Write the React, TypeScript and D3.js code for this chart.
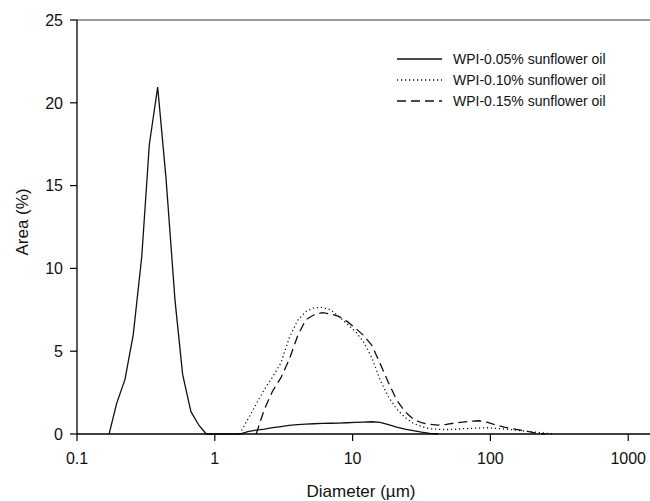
import React from 'react'
import * as d3 from 'd3'

// particle size distribution
const binsFine = [0.171, 0.194, 0.223, 0.256, 0.295, 0.335, 0.385, 0.442, 0.514, 0.584, 0.671, 0.771, 0.867]
const binsCoarse = [
  1.514, 1.738, 1.995, 2.291, 2.63, 3.02, 3.467, 3.981, 4.571, 5.248, 6.026, 6.918, 7.943, 9.12, 10.47,
  12.02, 13.8, 15.85, 18.2, 20.89, 23.99, 27.54, 31.62, 36.31, 41.69, 47.86, 54.95, 63.1, 72.44, 83.18,
  95.5, 109.6, 125.9, 144.5, 166.0, 190.5, 218.8, 251.2, 288.4
]

const oil005Fine = [0, 1.85, 3.3, 6.0, 10.7, 17.5, 20.95, 15.5, 8.1, 3.6, 1.35, 0.5, 0]
const oil005Coarse = [
  0, 0.15, 0.24, 0.3, 0.38, 0.45, 0.52, 0.57, 0.6, 0.62, 0.64, 0.65, 0.66, 0.68, 0.7, 0.72, 0.74, 0.7,
  0.57, 0.42, 0.3, 0.2, 0.11, 0.04, 0
]
const oil010 = [
  0, 0.9, 1.8, 2.7, 3.45, 4.3, 5.8, 6.85, 7.4, 7.62, 7.65, 7.5, 7.1, 6.65, 6.2, 5.55, 4.6, 3.25, 2.25, 1.5,
  1.0, 0.65, 0.45, 0.32, 0.28, 0.27, 0.28, 0.32, 0.34, 0.36, 0.38, 0.34, 0.3, 0.26, 0.2, 0.15, 0.1, 0.05, 0
]
const oil015 = [
  0, 1.5, 2.6, 3.4, 4.5, 5.9, 6.9, 7.2, 7.33, 7.25, 7.1, 6.8, 6.4, 5.95, 5.35, 4.25, 3.1, 2.05, 1.35, 0.9,
  0.68, 0.58, 0.54, 0.58, 0.66, 0.72, 0.78, 0.8, 0.7, 0.55, 0.42, 0.32, 0.23, 0.14, 0.04, 0
]

const xTicks = [0.1, 1, 10, 100, 1000]
const yTicks = [0, 5, 10, 15, 20, 25]
const legendLabels = ['WPI-0.05% sunflower oil', 'WPI-0.10% sunflower oil', 'WPI-0.15% sunflower oil']
const dashes = [null, '1.2,2.8', '9,5']

type Pt = { d: number; v: number }

const zip = (xs: number[], vs: number[]): Pt[] => vs.map((v, i) => ({ d: xs[i], v }))

export default function App() {
  const width = 650
  const height = 501
  const left = 77
  const right = 650
  const top = 20
  const bottom = 434
  const font = 'Arial, "Liberation Sans", Helvetica, sans-serif'

  // decade ~137.8 px, plot is cut at the right edge
  const x = d3.scaleLog().domain([0.1, 1439]).range([left, right])
  const y = d3.scaleLinear().domain([0, 25]).range([bottom, top])
  const line = d3.line<Pt>().x(p => x(p.d)).y(p => y(p.v)).curve(d3.curveLinear)

  const series = [
    zip(binsFine.concat(binsCoarse), oil005Fine.concat(oil005Coarse)),
    zip(binsCoarse, oil010),
    zip(binsCoarse.slice(2), oil015)
  ]

  return (
    <svg width={width} height={height} style={{ position: 'absolute', left: 0, top: 0, background: '#fff' }} fontFamily={font}>
      <line x1={left} x2={right} y1={top} y2={top} stroke="#7a7a7a" strokeWidth={1.5} />

      {series.map((s, i) => (
        <path key={i} d={line(s) || ''} fill="none" stroke="#111" strokeWidth={1.3}
          strokeDasharray={dashes[i] || undefined} />
      ))}

      <line x1={left} x2={left} y1={top} y2={bottom} stroke="#000" strokeWidth={1.3} />
      <line x1={left} x2={right} y1={bottom} y2={bottom} stroke="#000" strokeWidth={1.3} />

      {yTicks.map(t => (
        <g key={`y${t}`}>
          <line x1={left - 7} x2={left} y1={y(t)} y2={y(t)} stroke="#000" strokeWidth={1.2} />
          <text x={left - 14} y={y(t)} dy="0.36em" textAnchor="end" fontSize={16} fill="#111">{t}</text>
        </g>
      ))}
      {xTicks.map(t => (
        <g key={`x${t}`}>
          <line x1={x(t)} x2={x(t)} y1={bottom} y2={bottom + 7} stroke="#000" strokeWidth={1.2} />
          <text x={x(t)} y={bottom + 30} textAnchor="middle" fontSize={16} fill="#111">{t}</text>
        </g>
      ))}

      <text x={361} y={497} textAnchor="middle" fontSize={17} fill="#111">Diameter (µm)</text>
      <text transform={`translate(28,222) rotate(-90)`} textAnchor="middle" fontSize={17} fill="#111">Area (%)</text>

      {legendLabels.map((label, i) => (
        <g key={label} transform={`translate(397,${59 + i * 21})`}>
          <line x1={0} x2={45} y1={0} y2={0} stroke="#111" strokeWidth={1.3} strokeDasharray={dashes[i] || undefined} />
          <text x={56} y={0} dy="0.35em" fontSize={14} fill="#111">{label}</text>
        </g>
      ))}
    </svg>
  )
}
